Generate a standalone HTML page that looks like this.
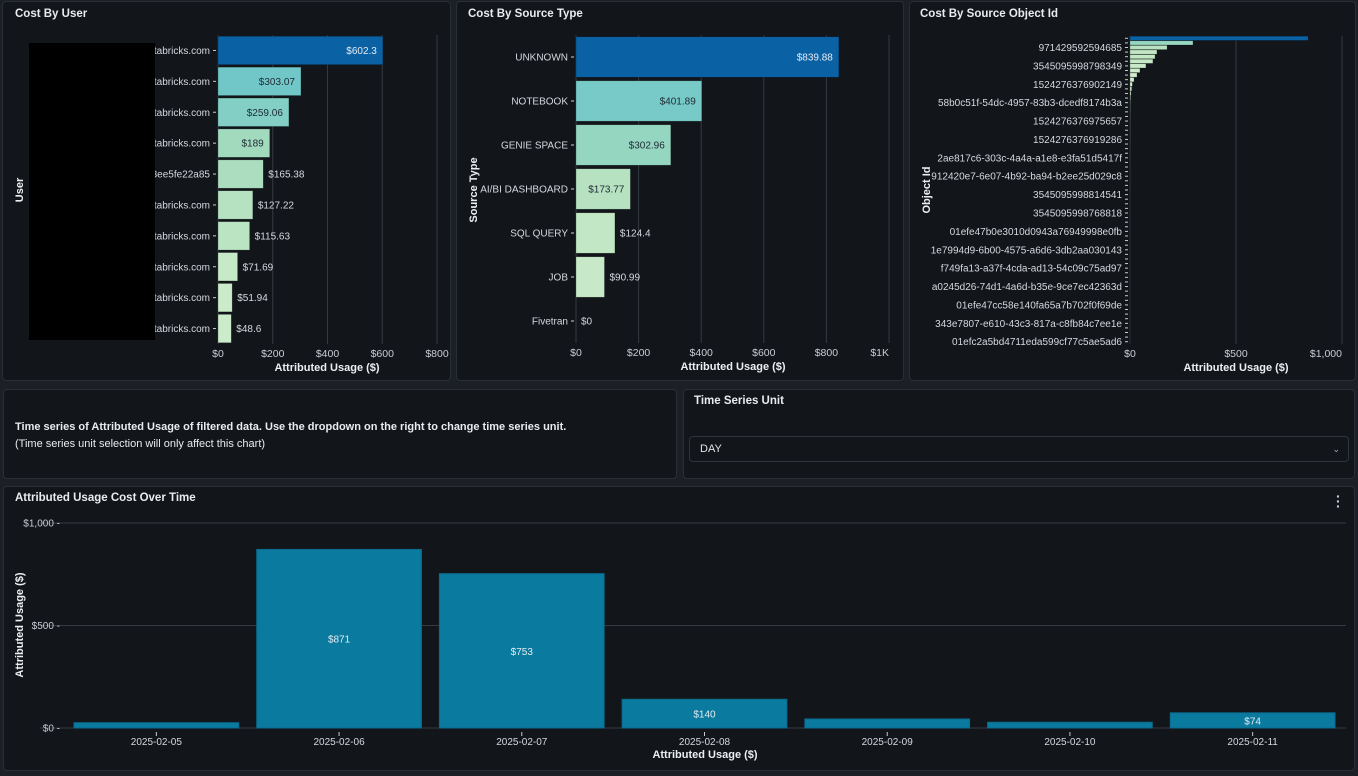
<!DOCTYPE html>
<html><head><meta charset="utf-8">
<style>
html,body{margin:0;padding:0;}
body{width:1358px;height:776px;background:#1c2026;position:relative;overflow:hidden;font-family:"Liberation Sans",Arial,sans-serif;}
.panel{position:absolute;background:#12161b;border:1px solid #2a2f37;border-radius:4px;box-sizing:border-box;}
.ttl{position:absolute;color:#e9ecef;font-weight:bold;font-size:11.5px;}
svg{position:absolute;left:0;top:0;}
text{font-family:"Liberation Sans",Arial,sans-serif;}
</style></head><body>
<div class="panel" style="left:2px;top:1px;width:449px;height:380px;"></div>
<div class="panel" style="left:456px;top:1px;width:448px;height:380px;"></div>
<div class="panel" style="left:909px;top:1px;width:447px;height:380px;"></div>
<div class="panel" style="left:3px;top:389px;width:674px;height:90px;"></div>
<div class="panel" style="left:683px;top:389px;width:672px;height:90px;"></div>
<div class="panel" style="left:3px;top:486px;width:1352px;height:285px;"></div>

<div class="ttl" style="left:15px;top:8px;">Cost By User</div>
<div class="ttl" style="left:468px;top:8px;">Cost By Source Type</div>
<div class="ttl" style="left:920px;top:8px;">Cost By Source Object Id</div>
<div style="position:absolute;left:15px;top:419px;color:#e9ecef;font-size:11px;line-height:17px;"><b>Time series of Attributed Usage of filtered data. Use the dropdown on the right to change time series unit.</b><br>(Time series unit selection will only affect this chart)</div>
<div class="ttl" style="left:694px;top:395px;">Time Series Unit</div>
<div style="position:absolute;left:689px;top:436px;width:660px;height:26px;box-sizing:border-box;border:1px solid #2f343c;border-radius:4px;background:#12161b;color:#e0e3e7;font-size:11px;line-height:24px;padding-left:10px;">DAY<span style="position:absolute;right:8px;top:0;font-size:9px;color:#aab0b8;">&#8964;</span></div>
<div class="ttl" style="left:15px;top:492px;">Attributed Usage Cost Over Time</div>
<div style="position:absolute;left:1336px;top:494px;width:8px;height:16px;color:#cfd3d8;font-size:14px;line-height:5px;font-weight:bold;">&middot;<br>&middot;<br>&middot;</div>

<svg id="chart" width="1358" height="776"></svg>
<div style="position:absolute;left:29px;top:43px;width:126px;height:297px;background:#000;"></div>

<script>
// Cost by user
const userLabels = ["tabricks.com","tabricks.com","tabricks.com","tabricks.com","3ee5fe22a85","tabricks.com","tabricks.com","tabricks.com","tabricks.com","tabricks.com"];
const userValues = [602.3,303.07,259.06,189,165.38,127.22,115.63,71.69,51.94,48.6];
const userTicks = [0,200,400,600,800];
const userTickLabels = ["$0","$200","$400","$600","$800"];
// Cost by source type
const srcLabels = ["UNKNOWN","NOTEBOOK","GENIE SPACE","AI/BI DASHBOARD","SQL QUERY","JOB","Fivetran"];
const srcValues = [839.88,401.89,302.96,173.77,124.4,90.99,0];
const srcTicks = [0,200,400,600,800,1000];
const srcTickLabels = ["$0","$200","$400","$600","$800","$1K"];
// Cost by object id
const objValues = [840,297,175,127,118,108,75,47,33,19,11,8,5,3,2,1.5,1.2,1,0.9,0.8,0.7,0.6,0.5,0.5,0.4,0.4,0.3,0.3,0.3,0.2,0.2,0.2,0.2,0.2,0.1,0.1,0.1,0.1,0.1,0.1,0.1,0.1,0.1,0.1,0.1,0.1,0.1,0.1,0.1,0.1,0.1,0.1,0.1,0.1,0.1,0.1,0.1,0.1,0.1,0.1,0.1,0.1,0.1,0.1,0.1,0.1,0.1];
const objLabels = ["971429592594685","3545095998798349","1524276376902149","58b0c51f-54dc-4957-83b3-dcedf8174b3a","1524276376975657","1524276376919286","2ae817c6-303c-4a4a-a1e8-e3fa51d5417f","912420e7-6e07-4b92-ba94-b2ee25d029c8","3545095998814541","3545095998768818","01efe47b0e3010d0943a76949998e0fb","1e7994d9-6b00-4575-a6d6-3db2aa030143","f749fa13-a37f-4cda-ad13-54c09c75ad97","a0245d26-74d1-4a6d-b35e-9ce7ec42363d","01efe47cc58e140fa65a7b702f0f69de","343e7807-e610-43c3-817a-c8fb84c7ee1e","01efc2a5bd4711eda599cf77c5ae5ad6"];
const objTicks = [0,500,1000];
const objTickLabels = ["$0","$500","$1,000"];
// Time series
const tsDates = ["2025-02-05","2025-02-06","2025-02-07","2025-02-08","2025-02-09","2025-02-10","2025-02-11"];
const tsValues = [26,871,753,140,44,28,74];
const tsLabelShown = [false,true,true,true,false,false,true];
const tsTicks = [0,500,1000];
const tsTickLabels = ["$0","$500","$1,000"];

const svg = document.getElementById('chart');
const NS = 'http://www.w3.org/2000/svg';
function mk(tag, attrs, txt){
  const e = document.createElementNS(NS, tag);
  for (const k in attrs) e.setAttribute(k, attrs[k]);
  if (txt !== undefined) e.textContent = txt;
  svg.appendChild(e);
  return e;
}
const stops = [[0,[214,240,210]],[0.15,[194,231,196]],[0.3,[166,219,189]],[0.4,[138,210,195]],[0.5,[114,200,200]],[0.7,[60,160,200]],[1,[10,98,165]]];
function colorFor(t){
  for (let i=1;i<stops.length;i++){
    if (t<=stops[i][0]){
      const a=stops[i-1], b=stops[i], f=(t-a[0])/(b[0]-a[0]);
      const c=a[1].map((v,j)=>Math.round(v+(b[1][j]-v)*f));
      return 'rgb('+c.join(',')+')';
    }
  }
  return 'rgb(10,98,165)';
}
function fmt(v){ return '$'+(Math.round(v*100)/100); }

function hbar(cfg){
  const max = Math.max(...cfg.values);
  const x = v => cfg.x0 + (v - cfg.d0)/(cfg.d1-cfg.d0)*(cfg.x1-cfg.x0);
  const n = cfg.values.length;
  const band = (cfg.yBot - cfg.yTop)/n;
  const y = i => cfg.yTop + i*band;
  cfg.ticks.forEach((t,i)=>{
    const gx = x(t);
    const g = mk('line',{x1:gx,x2:gx,y1:cfg.yTop,y2:cfg.yBot,stroke:'#353a42','stroke-width':1});
    
    
    const tl = mk('text',{x:gx,y:cfg.yBot+13,fill:'#c9cdd3','font-size':10.5,'text-anchor':i===cfg.ticks.length-1&&cfg.lastEnd?'end':'middle'},cfg.tickLabels[i]);
    
    
  });
  cfg.values.forEach((v,i)=>{
    const bw = x(v)-x(0);
    const pad = band*cfg.padFrac;
    const r = mk('rect',{x:x(0),y:y(i)+pad/2,width:Math.max(bw,0),height:band-pad,fill:colorFor(v/max),stroke:'rgba(0,0,0,0.35)','stroke-width':0.6});
    
    
    const cy = y(i)+band/2;
    if (cfg.labels && cfg.showTicks){
      const lab = cfg.labelAt ? cfg.labelAt(i) : cfg.labels[i];
      if (lab !== null){
        const t = mk('text',{x:x(0)-8,y:cy+3.5,fill:'#d5d9de','font-size':10,'text-anchor':'end'},lab);
        
        
      }
    }
    const tk = mk('line',{x1:x(0)-5,x2:x(0)-2,y1:cy,y2:cy,stroke:'#c9cdd3','stroke-width':1});
    
    
    if (cfg.valueLabels){
      const inside = bw > 50;
      const tx = inside ? x(v)-6 : x(v)+5;
      const fill = inside ? (v/max>0.8 ? '#e6ebf1' : '#1e2a33') : '#d5d9de';
      const vl = mk('text',{x:tx,y:cy+3.5,fill:fill,'font-size':10,'text-anchor':inside?'end':'start'},fmt(v));
      
      
    }
  });
  const at = mk('text',{x:cfg.titleX,y:cfg.yBot+27,fill:'#eceef1','font-size':11,'font-weight':'bold','text-anchor':'middle'},'Attributed Usage ($)');
  
  
  const yt = mk('text',{x:0,y:0,fill:'#eceef1','font-size':11,'font-weight':'bold','text-anchor':'middle',transform:'translate('+cfg.yTitleX+','+cfg.yTitleY+') rotate(-90)'},cfg.yTitle);
  
  
}

hbar({name:'user',values:userValues,labels:userLabels,showTicks:true,ticks:userTicks,tickLabels:userTickLabels,d0:0,d1:800,x0:218,x1:437,yTop:35,yBot:344,padFrac:0.08,valueLabels:true,titleX:327,yTitle:'User',yTitleX:23,yTitleY:190});
hbar({name:'source-type',values:srcValues,labels:srcLabels,showTicks:true,ticks:srcTicks,tickLabels:srcTickLabels,d0:0,d1:1000,x0:576,x1:889,yTop:35,yBot:343,padFrac:0.08,valueLabels:true,lastEnd:true,titleX:733,yTitle:'Source Type',yTitleX:477,yTitleY:190});
hbar({name:'object-id',values:objValues,labels:objLabels,showTicks:true,labelAt:i=>(i%4===2?objLabels[(i-2)/4]:null),ticks:objTicks,tickLabels:objTickLabels,d0:0,d1:1000,x0:1130,x1:1342,yTop:36,yBot:344,padFrac:0.08,valueLabels:false,lastEnd:true,titleX:1236,yTitle:'Object Id',yTitleX:930,yTitleY:190});

// Time series vertical bars
(function(){
  const x0=65, x1=1344, yTop=523, yBot=728;
  const band=(x1-x0)/tsValues.length;
  const y = v => yBot - v/1000*(yBot-yTop);
  tsTicks.forEach((t,i)=>{
    const g = mk('line',{x1:40,x2:1346,y1:y(t),y2:y(t),stroke:'#353a42','stroke-width':1});
    
    
    const l = mk('text',{x:60,y:y(t)+3.5,fill:'#c9cdd3','font-size':10,'text-anchor':'end'},tsTickLabels[i]+' -');
    
    
  });
  tsValues.forEach((v,i)=>{
    const bx = x0+i*band+9, bw = band-18;
    const r = mk('rect',{x:bx,y:y(v),width:bw,height:yBot-y(v),fill:'#0b7a9f',stroke:'#0a6b8d','stroke-width':1});
    
    
    const cx = x0+i*band+band/2;
    if (tsLabelShown[i]){
      const vl = mk('text',{x:cx,y:(y(v)+yBot)/2+4,fill:'#e6ebf1','font-size':10,'text-anchor':'middle'},'$'+v);
      
      
    }
    const tk = mk('line',{x1:cx,x2:cx,y1:732,y2:736,stroke:'#c9cdd3'});
    
    
    const tl = mk('text',{x:cx,y:745,fill:'#d5d9de','font-size':10,'text-anchor':'middle'},tsDates[i]);
    
    
  });
  const xt = mk('text',{x:705,y:758,fill:'#eceef1','font-size':11,'font-weight':'bold','text-anchor':'middle'},'Attributed Usage ($)');
  
  
  const yt = mk('text',{x:0,y:0,fill:'#eceef1','font-size':11,'font-weight':'bold','text-anchor':'middle',transform:'translate(23,625) rotate(-90)'},'Attributed Usage ($)');
  
  
})();
</script>
</body></html>
